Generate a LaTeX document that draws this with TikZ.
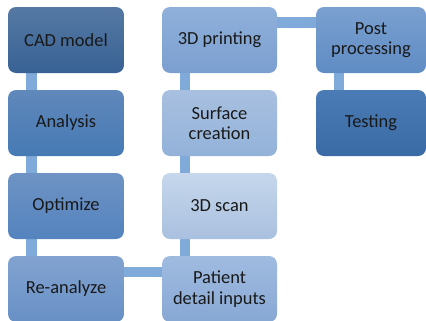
\documentclass[tikz,border=0pt]{standalone}
\usepackage{fontspec}
\setmainfont{Carlito}
\usetikzlibrary{backgrounds}
\definecolor{linkblue}{HTML}{80AADA}
\tikzset{
	box/.style={rounded corners=0.16cm, minimum width=2.32cm, minimum height=1.32cm,
		align=center, text=black!90, font=\fontsize{10.5}{11.5}\selectfont},
	link/.style={linkblue, line width=0.21cm}
}
\begin{document}
\begin{tikzpicture}
		\useasboundingbox (0,0) rectangle (8.52,6.4);
		
		\node[box, top color={rgb,255:red,85;green,121;blue,163}, bottom color={rgb,255:red,56;green,98;blue,148}] at (1.32,5.6) (cad) {CAD model};
		\node[box, top color={rgb,255:red,96;green,136;blue,187}, bottom color={rgb,255:red,70;green,122;blue,180}] at (1.32,3.94) (ana) {Analysis};
		\node[box, top color={rgb,255:red,110;green,147;blue,196}, bottom color={rgb,255:red,84;green,131;blue,190}] at (1.32,2.28) (opt) {Optimize};
		\node[box, top color={rgb,255:red,130;green,163;blue,208}, bottom color={rgb,255:red,104;green,144;blue,198}] at (1.32,0.62) (rean) {Re-analyze};
		
		\node[box, minimum width=2.3cm, top color={rgb,255:red,160;green,187;blue,224}, bottom color={rgb,255:red,135;green,168;blue,212}] at (4.39,0.62) (pat) {Patient\\detail inputs};
		\node[box, minimum width=2.3cm, top color={rgb,255:red,198;green,215;blue,236}, bottom color={rgb,255:red,169;green,192;blue,223}] at (4.39,2.28) (scan) {3D scan};
		\node[box, minimum width=2.3cm, top color={rgb,255:red,168;green,192;blue,224}, bottom color={rgb,255:red,147;green,178;blue,217}] at (4.39,3.94) (surf) {Surface\\creation};
		\node[box, minimum width=2.3cm, top color={rgb,255:red,143;green,176;blue,218}, bottom color={rgb,255:red,123;green,159;blue,208}] at (4.39,5.6) (print) {3D printing};
		
		\node[box, minimum width=2.2cm, top color={rgb,255:red,122;green,160;blue,208}, bottom color={rgb,255:red,95;green,140;blue,196}] at (7.42,5.6) (post) {Post\\processing};
		\node[box, minimum width=2.2cm, top color={rgb,255:red,74;green,123;blue,181}, bottom color={rgb,255:red,58;green,107;blue,165}] at (7.42,3.94) (test) {Testing};
		
		% connecting bars
		\begin{scope}[on background layer]
		\draw[link] ([xshift=0.48cm]cad.south west) -- ([xshift=0.48cm]ana.north west);
		\draw[link] ([xshift=0.48cm]ana.south west) -- ([xshift=0.48cm]opt.north west);
		\draw[link] ([xshift=0.48cm]opt.south west) -- ([xshift=0.48cm]rean.north west);
		\draw[link] ([yshift=-0.33cm]rean.north east) -- ([yshift=-0.33cm]pat.north west);
		\draw[link] ([xshift=0.47cm]pat.north west) -- ([xshift=0.47cm]scan.south west);
		\draw[link] ([xshift=0.47cm]scan.north west) -- ([xshift=0.47cm]surf.south west);
		\draw[link] ([xshift=0.47cm]surf.north west) -- ([xshift=0.47cm]print.south west);
		\draw[link] ([yshift=-0.32cm]print.north east) -- ([yshift=-0.32cm]post.north west);
		\draw[link] ([xshift=0.47cm]post.south west) -- ([xshift=0.47cm]test.north west);
		\end{scope}
\end{tikzpicture}
\end{document}
